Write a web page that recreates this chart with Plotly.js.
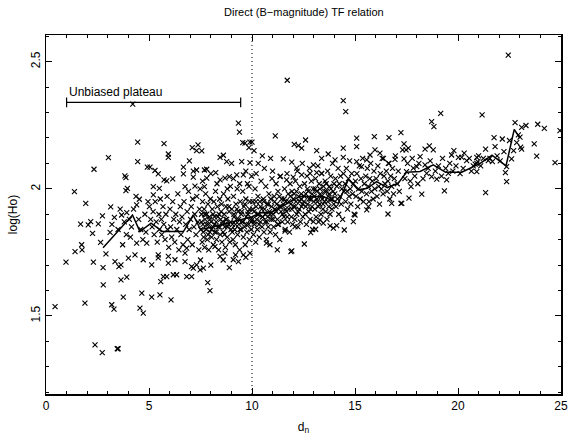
<!DOCTYPE html>
<html><head><meta charset="utf-8">
<script src="https://cdn.plot.ly/plotly-3.0.1.min.js"></script>
<style>html,body{margin:0;padding:0;background:#fff}#plot{width:568px;height:438px}</style>
</head><body><div id="plot"></div>
<script>
// ---- data ----
const xA = [0.44,0.97,1.38,1.41,1.73,1.75,1.89,1.93,1.68,2.05,2.17,2.26,2.30,2.33,2.38,2.54,2.65,2.73,2.74,2.77,2.78,2.91,3.03,3.11,3.14,3.19,3.30,3.32,3.35,3.46,3.50,3.54,3.64,3.64,3.67,3.72,3.75,3.83,3.88,3.88,3.92,3.92,3.95,4.00,4.21,4.32,4.37,4.40,4.40,4.45,4.45,4.53,4.56,4.65,4.72,4.72,4.89,4.92,3.20,3.50,3.60,3.80,4.05,4.15,4.25,4.50,4.60,4.80,4.85,4.95,4.10,4.70,3.90];
const yA = [1.537,1.712,1.989,1.753,1.780,1.760,1.550,1.943,1.861,1.858,1.871,1.825,1.712,2.077,1.386,1.862,1.789,1.356,1.894,1.690,1.622,1.744,2.123,1.829,1.929,1.544,1.527,1.888,1.714,1.371,1.371,1.694,1.701,1.642,1.897,1.780,1.574,2.051,2.044,1.993,1.906,1.653,2.002,1.727,2.333,1.740,1.970,1.786,1.937,2.184,2.107,1.959,1.531,1.590,1.511,1.721,1.786,2.085,1.86,1.84,1.92,1.87,1.88,1.85,1.92,1.88,1.84,1.90,1.83,1.95,1.81,1.80,1.82];

const xB = [5.05,5.13,5.13,5.21,5.21,5.29,5.45,5.45,5.45,5.50,5.53,5.57,5.70,5.73,5.73,5.86,5.86,5.94,5.94,5.94,5.94,6.07,6.15,6.18,6.26,6.34,6.67,6.67,6.75,6.75,6.75,6.83,6.83,6.96,7.07,7.07,7.10,7.15,7.15,7.15,7.23,7.31,7.31,7.31,7.38,7.48,
 5.02,5.08,5.15,5.20,5.25,5.30,5.35,5.40,5.48,5.50,5.55,5.60,5.62,5.68,5.72,5.78,5.82,5.88,5.90,5.96,6.02,6.05,6.10,6.15,6.20,6.25,6.30,6.35,6.40,6.45,6.48,6.52,6.55,6.60,6.65,6.70,6.78,6.85,6.88,6.92,6.95,7.02,7.05,7.10,7.12,7.18,7.22,7.28,7.32,7.38,7.42,7.45,7.48];
const yB = [2.085,1.574,1.701,2.009,1.976,2.072,2.059,1.740,1.728,2.002,1.583,1.635,1.655,2.178,2.035,2.031,1.655,2.137,2.124,1.734,1.708,1.563,2.039,1.662,1.721,1.662,2.085,2.059,2.009,1.747,1.714,1.767,1.655,2.110,1.655,1.694,2.162,2.070,2.046,1.688,2.011,2.150,2.074,1.701,2.173,1.681,
 1.93,1.88,1.85,1.91,1.82,1.95,1.87,1.79,1.90,1.84,1.96,1.88,1.82,1.93,1.86,1.80,1.90,1.97,1.84,1.77,1.92,1.85,1.81,1.95,1.88,1.79,1.90,1.84,1.98,1.76,1.87,1.93,1.82,1.89,1.78,1.95,1.86,1.91,1.80,1.99,1.84,1.88,1.93,1.78,1.96,1.85,1.90,1.82,1.97,1.87,1.76,1.92,2.00];

const xC = [7.56,7.64,7.69,7.69,7.80,7.80,7.85,7.96,8.20,8.24,8.45,8.45,8.45,8.61,8.69,8.69,8.77,8.90,9.01,9.09,9.26,9.34,9.34,9.39,9.50,9.55,9.58,9.58,9.66,9.85,9.90,9.90,9.90,
 7.52,7.55,7.58,7.60,7.62,7.65,7.68,7.70,7.72,7.75,7.78,7.80,7.83,7.86,7.88,7.90,7.93,7.96,7.98,
 8.02,8.04,8.07,8.10,8.12,8.15,8.18,8.20,8.23,8.26,8.28,8.32,8.35,8.38,8.40,8.43,8.46,8.48,
 8.52,8.54,8.57,8.60,8.62,8.65,8.68,8.71,8.74,8.77,8.80,8.83,8.86,8.89,8.92,8.95,8.98,
 9.02,9.05,9.08,9.10,9.13,9.16,9.19,9.22,9.25,9.28,9.30,9.33,9.36,9.40,9.43,9.46,9.48,
 9.52,9.55,9.58,9.61,9.64,9.67,9.70,9.72,9.75,9.78,9.81,9.84,9.87,9.90,9.93,9.96,9.98,
 7.50,8.00,8.60,9.20,9.70,8.90,7.60,8.00,8.30,8.80,9.10,9.40,9.70,9.85];
const yC = [2.149,1.688,2.074,2.009,2.077,2.042,1.631,1.600,1.773,2.064,2.124,2.035,1.734,2.132,2.042,1.747,2.107,2.048,2.100,1.721,2.055,2.258,1.714,2.223,2.107,2.182,2.055,1.740,2.180,2.162,2.184,2.103,1.747,
 1.84,1.90,1.79,1.95,1.86,1.81,1.92,1.77,1.88,1.98,1.84,1.90,1.80,1.94,1.86,1.76,1.89,1.83,1.96,
 1.87,1.81,1.92,1.85,1.78,1.95,1.89,1.83,1.99,1.87,1.80,1.93,1.85,1.76,1.90,1.96,1.82,1.88,
 1.94,1.79,1.87,1.83,1.98,1.90,1.85,1.77,1.93,1.88,1.81,1.96,1.86,1.91,1.79,2.01,1.84,
 1.92,1.86,1.80,1.97,1.89,1.84,1.78,1.94,1.88,2.00,1.82,1.91,1.86,1.76,1.95,1.84,1.90,
 1.87,1.99,1.81,1.93,1.85,1.78,1.96,1.89,1.83,2.02,1.91,1.86,1.80,1.95,1.88,1.84,2.05,
 1.72,1.70,1.72,1.74,1.73,1.69,2.03,2.06,2.02,2.00,2.04,2.02,2.07,2.01];

const xD = [10.70,10.87,11.13,11.23,11.36,11.52,11.60,11.68,11.71,11.89,11.93,11.93,12.00,12.05,12.09,12.17,12.25,12.41,12.41,12.54,12.60,12.82,12.85,12.98,12.98,13.09,13.14,13.14,13.30,13.38,13.38,13.46,13.70,13.79,13.95,14.03,
 10.10,10.30,10.50,10.20,10.60,10.90,11.00,10.00,
 10.02,10.04,10.07,10.10,10.12,10.15,10.18,10.20,10.23,10.26,10.29,10.32,10.35,10.38,10.41,10.44,10.47,10.49,
 10.52,10.55,10.58,10.61,10.64,10.67,10.70,10.73,10.76,10.79,10.82,10.85,10.88,10.91,10.94,10.97,
 11.02,11.05,11.08,11.11,11.14,11.17,11.20,11.23,11.26,11.29,11.32,11.35,11.38,11.41,11.44,11.47,
 11.52,11.55,11.58,11.61,11.64,11.67,11.70,11.73,11.76,11.79,11.82,11.85,11.88,11.91,11.94,11.97,
 12.02,12.05,12.08,12.11,12.14,12.17,12.20,12.23,12.26,12.29,12.32,12.35,12.38,12.41,12.44,12.47,
 12.52,12.55,12.58,12.61,12.64,12.67,12.70,12.73,12.76,12.79,12.82,12.85,12.88,12.91,12.94,12.97,
 13.02,13.05,13.08,13.11,13.14,13.17,13.20,13.23,13.26,13.29,13.32,13.35,13.38,13.41,13.44,13.47,
 13.52,13.55,13.58,13.61,13.64,13.67,13.70,13.73,13.76,13.79,13.82,13.85,13.88,13.91,13.94,13.97];
const yD = [1.786,1.780,2.208,1.760,2.048,2.118,1.834,2.035,2.427,1.753,1.756,2.105,2.046,2.175,1.851,2.081,2.170,2.160,2.055,1.783,2.192,2.061,1.828,2.094,1.871,1.841,2.150,2.064,1.878,2.120,2.061,1.865,2.137,1.854,1.845,2.114,
 2.15,2.10,2.13,2.06,2.08,2.12,2.07,2.184,
 1.88,1.95,1.82,1.91,1.86,2.00,1.79,1.93,1.88,1.84,1.97,1.90,1.81,1.95,1.87,2.03,1.92,1.85,
 1.89,1.96,1.83,1.92,1.87,2.01,1.80,1.94,1.89,1.85,1.98,1.91,1.83,1.96,1.88,2.04,
 1.90,1.85,1.97,1.92,1.82,2.02,1.94,1.88,1.99,1.86,1.93,1.80,2.05,1.91,1.96,1.87,
 1.94,1.89,2.00,1.84,1.95,1.91,2.06,1.87,1.98,1.92,1.83,2.02,1.94,1.89,1.99,1.86,
 1.93,1.98,1.88,2.03,1.95,1.90,2.07,1.85,1.97,1.92,2.01,1.87,1.96,1.93,2.10,1.89,
 1.95,2.02,1.90,1.98,1.86,2.05,1.94,1.99,1.91,2.08,1.88,1.96,2.03,1.93,1.84,2.00,
 1.97,1.92,2.04,1.89,1.99,1.95,2.09,1.87,2.02,1.94,1.98,1.90,2.06,1.96,1.92,2.01,
 1.95,2.03,1.91,1.99,1.88,2.07,1.97,1.93,2.01,1.90,2.05,1.96,1.92,2.10,1.99,1.94];

const xE = [14.11,14.43,14.43,14.43,14.48,14.55,14.92,15.00,15.08,15.08,15.08,15.32,15.57,15.57,15.65,15.73,15.94,15.97,16.21,16.38,16.60,16.62,16.65,16.78,16.94,
 14.02,14.05,14.08,14.12,14.15,14.18,14.21,14.24,14.27,14.30,14.33,14.36,14.40,14.44,14.47,
 14.52,14.55,14.58,14.61,14.64,14.68,14.71,14.74,14.77,14.80,14.84,14.88,14.92,14.96,
 15.02,15.05,15.09,15.13,15.17,15.21,15.25,15.29,15.33,15.37,15.41,15.45,
 15.52,15.56,15.60,15.64,15.68,15.72,15.76,15.80,15.84,15.88,15.92,15.96,
 16.03,16.07,16.11,16.15,16.19,16.23,16.28,16.32,16.36,16.41,16.45,
 16.52,16.56,16.60,16.65,16.69,16.73,16.78,16.82,16.87,16.91,16.96];
const yE = [1.855,2.347,2.160,2.124,1.838,2.304,1.871,1.897,2.199,2.166,2.107,2.087,2.114,1.917,1.930,2.133,2.205,2.153,2.140,2.120,1.901,2.100,2.201,1.943,2.116,
 1.98,2.04,1.93,2.01,1.96,2.08,1.90,2.02,1.97,2.05,1.94,2.00,1.88,2.06,1.99,
 2.02,1.95,2.08,1.99,1.92,2.04,1.97,2.11,2.00,1.94,2.06,1.98,2.02,1.90,
 2.03,1.97,2.06,1.93,2.00,2.09,1.96,2.04,1.99,2.12,1.95,2.02,
 2.05,1.98,2.08,2.01,1.95,2.04,2.10,1.99,2.03,1.96,2.07,2.00,
 2.04,1.97,2.09,2.01,1.94,2.06,2.00,2.12,1.98,2.05,2.02,
 2.07,1.99,2.03,2.10,1.96,2.05,2.01,2.08,1.98,2.04,2.13];

const xF = [17.23,17.23,17.27,17.31,17.38,17.38,17.48,17.50,17.59,17.62,17.72,17.83,18.00,18.16,18.24,18.40,18.40,18.48,18.61,18.72,18.72,18.80,18.83,18.97,19.16,19.34,19.45,19.53,19.69,19.80,20.02,20.18,20.42,20.74,20.83,20.91,20.91,20.91,20.96,21.17,21.23,21.34,21.34,21.47,21.67,21.75,21.80,22.15,22.23,22.30,22.36,22.36,22.44,22.60,22.77,22.85,22.93,23.01,23.04,23.09,23.09,23.30,23.70,23.82,23.87,24.19,24.71,24.95,
 17.05,17.10,17.15,17.42,17.55,17.68,17.78,17.90,18.05,18.10,18.30,18.55,18.65,18.90,19.05,19.20,19.25,19.40,19.60,19.75,19.90,20.10,20.25,20.30,20.55,20.65,21.00,21.10,21.55,21.90,22.05,22.50,22.70];
const yF = [1.943,2.221,1.943,2.153,2.177,2.118,2.153,2.068,2.160,1.963,2.009,2.081,2.087,2.127,1.979,2.156,2.094,2.061,2.169,2.264,2.048,2.153,2.245,2.038,2.297,1.992,2.035,2.061,2.133,2.150,2.124,2.124,2.111,2.090,2.097,2.124,2.068,2.100,2.107,2.291,2.120,2.156,1.985,2.111,2.107,2.201,2.166,2.196,2.146,2.064,2.087,2.028,2.526,2.118,2.260,2.182,2.212,2.203,2.164,2.242,2.156,2.249,2.177,2.129,2.254,2.238,2.103,2.229,
 2.02,2.07,1.99,2.04,2.10,2.03,2.12,2.05,2.02,2.10,2.04,2.08,2.11,2.07,2.09,2.05,2.12,2.08,2.10,2.07,2.09,2.06,2.08,2.14,2.12,2.07,2.13,2.09,2.12,2.13,2.11,2.19,2.15];

// extra points filling the dark core of the cloud
const xG = [7.54,7.63,7.71,7.79,7.87,7.95,8.03,8.11,8.19,8.27,8.34,8.42,8.50,8.58,8.66,8.73,8.81,8.88,8.96,9.04,9.12,9.20,9.27,9.35,9.42,9.50,9.57,9.65,9.73,9.80,9.88,9.95,
 10.03,10.11,10.19,10.27,10.34,10.42,10.50,10.57,10.65,10.72,10.80,10.87,10.95,11.03,11.10,11.18,11.25,11.33,11.40,11.48,11.56,11.63,11.71,11.78,11.86,11.93,
 12.01,12.09,12.16,12.24,12.31,12.39,12.46,12.54,12.61,12.69,12.77,12.84,12.92,13.00,13.07,13.15,13.22,13.30,13.37,13.45,13.53,13.60,13.68,13.75,13.83,13.90,13.98];
const yG = [1.87,1.83,1.90,1.86,1.82,1.88,1.84,1.90,1.86,1.83,1.89,1.85,1.91,1.86,1.82,1.88,1.85,1.93,1.87,1.83,1.90,1.86,1.92,1.88,1.84,1.91,1.87,1.94,1.86,1.90,1.92,1.87,
 1.92,1.87,1.95,1.90,1.86,1.93,1.89,1.95,1.90,1.87,1.94,1.90,1.93,1.88,1.95,1.91,1.86,1.97,1.93,1.90,1.96,1.92,1.89,1.95,1.97,1.92,
 1.96,1.93,1.99,1.91,1.95,1.98,1.94,1.97,1.93,2.00,1.96,1.92,1.98,1.95,2.00,1.96,1.93,2.00,1.97,1.94,1.99,2.02,1.95,1.98,2.00,1.96,2.02];

// running mean line
const meanX = [2.77,4.20,4.56,5.10,5.66,6.67,7.15,7.50,8.10,9.00,10.00,10.40,11.00,11.52,12.33,13.46,14.19,14.68,15.16,15.60,16.05,16.57,17.10,17.50,18.16,18.80,19.40,20.18,21.08,21.65,22.33,22.73,23.00];
const meanY = [1.768,1.897,1.832,1.865,1.832,1.832,1.897,1.840,1.850,1.870,1.890,1.905,1.910,1.934,1.970,1.970,1.943,2.038,1.996,2.002,2.028,2.005,2.022,2.065,2.068,2.094,2.065,2.065,2.100,2.132,2.090,2.234,2.200];

// unbiased plateau bar
const plateauX = [1.0, 9.45];
const plateauY = [2.34, 2.34];
const plateauLabel = 'Unbiased plateau';
const cutX = 10;

const xs = [].concat(xA,xB,xC,xD,xE,xF,xG);
const ys = [].concat(yA,yB,yC,yD,yE,yF,yG);

const font = 'Liberation Sans, Arial, sans-serif';
const traces = [
  {x: xs, y: ys, type:'scatter', mode:'markers',
   marker:{symbol:'x-thin-open', size:5, color:'#000', line:{width:1.1, color:'#000'}}, hoverinfo:'skip'},
  {x: meanX, y: meanY, type:'scatter', mode:'lines', line:{color:'#000', width:1.5}},
  {x: plateauX, y: plateauY, type:'scatter', mode:'lines+markers',
   line:{color:'#000', width:1.2},
   marker:{symbol:'line-ns-open', size:7, line:{width:1.2, color:'#000'}}}
];
const layout = {
  width:568, height:438, showlegend:false,
  paper_bgcolor:'#fff', plot_bgcolor:'#fff',
  margin:{l:46, r:7, t:35, b:44},
  font:{family:font, size:12, color:'#000'},
  title:{text:'Direct (B\u2212magnitude) TF relation', font:{family:font, size:11, color:'#000'},
         x:0.535, xanchor:'center', y:0.972, yanchor:'middle', yref:'container'},
  xaxis:{range:[0,25], dtick:5, tick0:0, ticks:'inside', ticklen:6, tickwidth:1, tickcolor:'#000',
         minor:{dtick:1, ticks:'inside', ticklen:3, tickcolor:'#000'},
         showline:true, linecolor:'#000', linewidth:1.5, mirror:'allticks', showgrid:false, zeroline:false,
         tickfont:{size:12}, title:{text:'d<sub>n</sub>', font:{size:12}, standoff:10}},
  yaxis:{range:[1.193,2.605], dtick:0.5, tick0:0, ticks:'inside', ticklen:6, tickwidth:1, tickcolor:'#000',
         minor:{dtick:0.1, ticks:'inside', ticklen:3, tickcolor:'#000'},
         showline:true, linecolor:'#000', linewidth:1.5, mirror:'allticks', showgrid:false, zeroline:false,
         tickangle:-90, tickfont:{size:12}, title:{text:'log(Ho)', font:{size:12}, standoff:8}},
  shapes:[{type:'line', xref:'x', yref:'paper', x0:cutX, x1:cutX, y0:0, y1:1,
           line:{color:'#000', width:1, dash:'1px,3px'}}],
  annotations:[{x:plateauX[0], y:plateauY[0], xref:'x', yref:'y', text:plateauLabel, showarrow:false,
                xanchor:'left', yanchor:'bottom', yshift:1, font:{size:12}}]
};
Plotly.newPlot('plot', traces, layout, {displayModeBar:false, staticPlot:true});
</script></body></html>
